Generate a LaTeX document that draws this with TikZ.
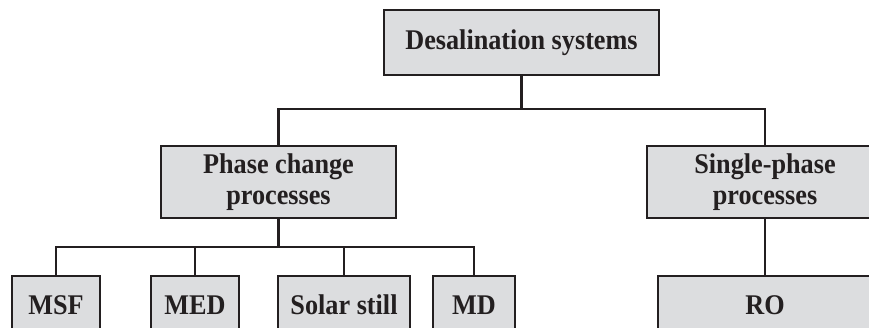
\documentclass[tikz,border=0pt]{standalone}
\usepackage{fontspec}
\setmainfont{Liberation Serif}[FakeStretch=0.92]
\definecolor{boxfill}{RGB}{220,221,223}
\definecolor{ink}{RGB}{35,31,32}
\begin{document}
\begin{tikzpicture}[x=1pt,y=-1pt,
  box/.style={draw=ink,fill=boxfill,text=ink,inner sep=0pt,align=center,
    font=\fontsize{28.5}{31}\selectfont\bfseries,line width=2.5pt},
  leaf/.style={box,line width=1.8pt,minimum height=58pt},
  thickline/.style={draw=ink,line width=2.5pt},
  thinline/.style={draw=ink,line width=1.3pt}]
\useasboundingbox (0,0) rectangle (869,327);
\clip (0,0) rectangle (869,327);
\node[box,minimum width=275pt,minimum height=65pt] (top) at (521.5,42.5) {Desalination systems};
\node[box,minimum width=235pt,minimum height=72pt] (phase) at (278.5,182) {Phase change\\processes};
\node[box,minimum width=236pt,minimum height=72pt] (single) at (765,182) {Single-phase\\processes};
\node[leaf,minimum width=88pt] (msf) at (56,305) {MSF};
\node[leaf,minimum width=88pt] (med) at (195,305) {MED};
\node[leaf,minimum width=132pt] (solar) at (344,305) {Solar still};
\node[leaf,minimum width=82pt] (md) at (474,305) {MD};
\node[leaf,minimum width=214pt] (ro) at (765,305) {RO};
\coordinate (j1) at (521.5,109);
\coordinate (j2) at (278.5,247);
\draw[thickline] (top.south) -- (j1);
\draw[thickline] (phase.north) |- (j1) -| (single.north);
\draw[thickline] (phase.south) -- (j2);
\draw[thinline] (msf.north) |- (md.north |- j2) -- (md.north);
\draw[thinline] (med.north) -- (med.north |- j2);
\draw[thinline] (solar.north) -- (solar.north |- j2);
\draw[thinline] (single.south) -- (ro.north);
\end{tikzpicture}
\end{document}
